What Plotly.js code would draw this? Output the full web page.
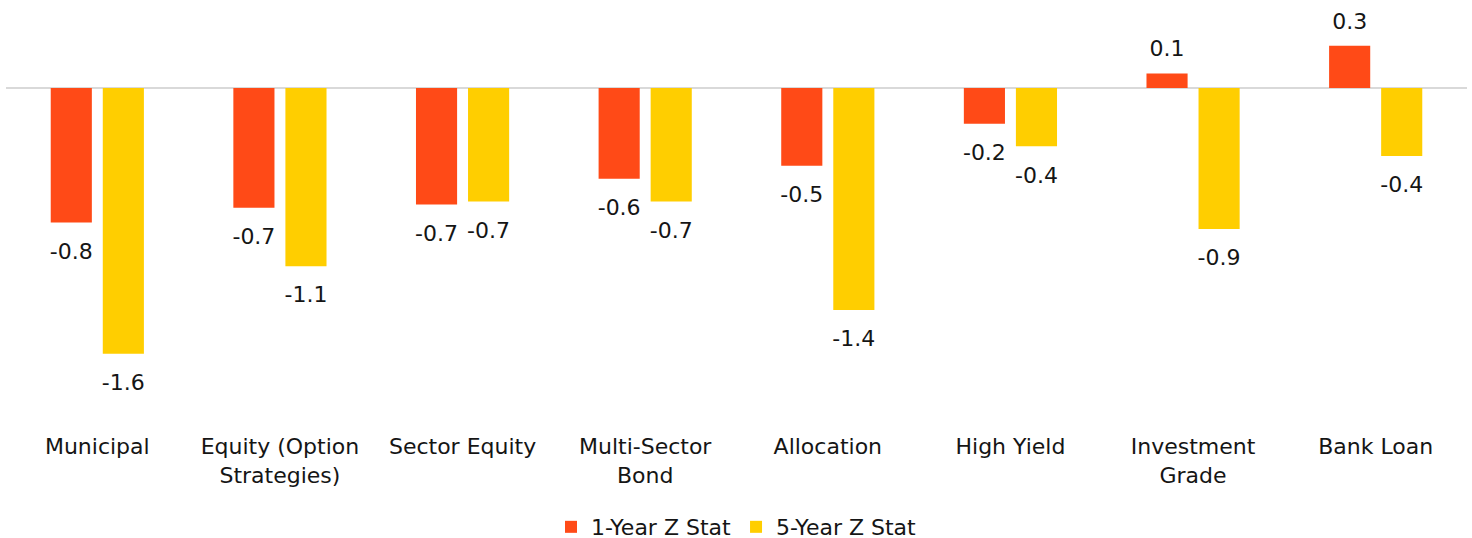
<!DOCTYPE html>
<html>
<head>
<meta charset="utf-8">
<script src="https://cdn.plot.ly/plotly-3.0.1.min.js"></script>
<style>html,body{margin:0;padding:0;background:#fff;}#chart{width:1472px;height:538px;}</style>
</head>
<body>
<div id="chart"></div>
<script>
const categories = ["Municipal", "Equity (Option<br>Strategies)", "Sector Equity", "Multi-Sector<br>Bond", "Allocation", "High Yield", "Investment<br>Grade", "Bank Loan"];
const oneYear = [-0.83, -0.74, -0.72, -0.56, -0.48, -0.22, 0.09, 0.26];
const fiveYear = [-1.64, -1.10, -0.70, -0.70, -1.37, -0.36, -0.87, -0.42];

const FONT = "'DejaVu Sans', Inter, sans-serif";
const RED = "#ff4a17", YELLOW = "#ffce00", INK = "#151515";

function barTrace(name, vals, color) {
  return {type: "bar", name: name, x: categories, y: vals, marker: {color: color},
          hoverinfo: "skip", legendgroup: name};
}
function labelTrace(name, vals) {
  return {type: "scatter", mode: "markers+text", name: name, x: categories, y: vals,
          orientation: "v", showlegend: false, legendgroup: name, hoverinfo: "skip", cliponaxis: false,
          marker: {opacity: 0, size: vals.map(v => v < 0 ? 30 : 17)},
          text: vals.map(v => v.toFixed(1)),
          textposition: vals.map(v => v < 0 ? "bottom center" : "top center"),
          textfont: {size: 22, color: INK, family: FONT}};
}
const traces = [
  barTrace("1-Year Z Stat", oneYear, RED),
  barTrace("5-Year Z Stat", fiveYear, YELLOW),
  labelTrace("1-Year Z Stat", oneYear),
  labelTrace("5-Year Z Stat", fiveYear)
];
const layout = {
  width: 1472, height: 538,
  margin: {l: 6, r: 5, t: 15, b: 110},
  paper_bgcolor: "#fff", plot_bgcolor: "#fff",
  font: {family: FONT, size: 22, color: INK},
  barmode: "group", bargap: 0.43, bargroupgap: 0.21,
  scattermode: "group", scattergap: 0.43,
  xaxis: {showgrid: false, showline: false, ticks: "", ticklabelstandoff: 3,
          tickfont: {size: 22, color: INK}, fixedrange: true},
  yaxis: {range: [-2.099, 0.4506], autorange: false, showgrid: false, showticklabels: false, ticks: "",
          zeroline: true, zerolinecolor: "#d9d9d9", zerolinewidth: 2, fixedrange: true},
  showlegend: true,
  legend: {orientation: "h", x: 0.5, xanchor: "center", yref: "container", y: 0.0204, yanchor: "middle",
           font: {size: 22, color: INK}, itemwidth: 30, tracegroupgap: 0}
};
Plotly.newPlot("chart", traces, layout, {displayModeBar: false, staticPlot: true});
</script>
</body>
</html>
